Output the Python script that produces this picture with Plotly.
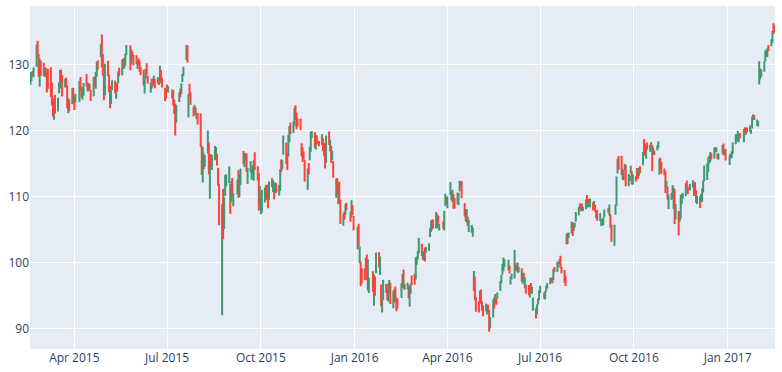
import pandas as pd
import plotly.graph_objects as go

holidays = ["2015-04-03", "2015-05-25", "2015-07-03", "2015-09-07", "2015-11-26", "2015-12-25",
            "2016-01-01", "2016-01-18", "2016-02-15", "2016-03-25", "2016-05-30", "2016-07-04",
            "2016-09-05", "2016-11-24", "2016-12-26", "2017-01-02", "2017-01-16"]
dates = [d for d in pd.bdate_range("2015-02-17", "2017-02-16") if d.strftime("%Y-%m-%d") not in holidays]

open_ = [
    127.49,127.63,128.48,128.62,130.02,132.94,131.56,128.79,130.00,
    129.25,128.96,129.10,128.58,128.40,127.96,126.41,124.75,122.31,124.40,123.88,125.90,127.00,128.75,128.25,127.12,127.23,126.54,122.76,124.57,124.05,126.09,
    124.82,125.03,124.47,127.64,125.85,125.85,125.95,128.37,127.00,126.41,126.28,125.55,125.57,128.10,126.99,128.30,130.49,132.31,134.46,130.16,128.64,
    126.10,129.50,128.15,126.56,124.77,126.68,127.39,125.60,126.15,127.41,129.07,128.38,130.69,130.00,130.07,131.60,132.60,130.34,131.86,131.23,
    131.20,129.86,130.66,129.58,129.50,128.90,126.70,127.92,129.18,128.19,126.10,127.03,127.72,127.23,127.71,127.49,127.48,127.21,128.86,127.67,125.46,125.57,
    126.90,126.43,124.94,125.89,124.64,123.85,121.94,125.03,126.04,125.72,127.74,129.08,130.97,132.85,121.99,126.20,125.32,123.09,123.38,123.15,122.32,122.60,
    121.50,117.42,112.95,115.97,114.58,116.53,117.81,112.53,116.04,114.32,116.04,116.43,116.10,114.08,110.43,94.87,111.11,107.09,112.23,112.17,112.03,
    110.15,110.23,112.49,108.97,111.75,113.76,110.27,111.79,116.58,115.93,116.25,115.66,112.21,113.67,113.38,113.63,113.25,116.44,113.85,112.83,110.17,
    109.07,108.01,109.88,110.63,111.74,110.19,110.00,112.73,110.82,111.29,110.93,111.78,110.80,111.34,114.00,114.33,116.70,118.08,115.40,116.93,118.70,120.99,
    119.87,120.79,123.13,121.85,121.11,120.96,116.90,116.37,116.26,115.20,111.38,114.92,115.76,117.64,119.20,119.27,117.33,119.21,118.29,117.99,
    118.75,117.34,116.55,115.29,118.98,117.52,117.64,116.04,115.19,112.18,111.94,111.07,112.02,108.91,107.28,107.40,107.27,109.00,107.59,106.96,108.58,107.01,
    102.61,105.75,100.56,98.68,98.55,98.97,100.55,100.32,97.96,96.20,98.41,95.10,97.06,98.63,101.52,99.93,96.04,93.79,94.79,
    96.47,95.42,95.00,95.86,96.52,93.13,94.29,95.92,93.79,94.19,95.02,96.67,98.84,96.00,96.31,96.40,93.98,96.05,97.20,96.86,
    97.65,100.51,100.58,102.37,102.39,100.78,101.31,101.41,102.24,101.91,103.96,104.61,105.52,106.34,105.93,105.25,106.48,105.47,106.00,104.89,108.65,109.72,
    108.78,110.42,109.51,110.23,109.95,108.91,108.97,109.34,110.80,111.62,112.11,108.89,107.88,106.64,106.93,105.01,105.00,103.91,96.00,97.61,93.99,
    93.97,94.20,95.20,94.00,93.37,93.00,93.33,93.48,92.72,90.00,92.39,94.55,94.16,94.64,94.64,95.87,97.22,98.67,99.68,99.44,99.60,
    99.02,97.60,97.79,97.99,99.25,99.02,98.50,98.53,98.69,97.32,97.82,96.45,96.62,96.00,94.94,96.25,95.94,92.91,93.00,92.90,93.97,94.44,
    95.49,95.39,94.60,95.70,96.49,96.75,97.17,97.41,97.39,98.92,98.70,99.56,100.00,99.83,99.26,98.25,96.82,104.27,102.83,104.19,
    104.41,106.05,104.81,105.58,106.27,107.52,108.23,108.71,108.52,107.78,108.14,109.63,109.10,109.23,108.77,108.86,108.59,108.57,107.39,107.41,106.62,105.80,105.66,
    106.14,107.70,107.90,107.83,107.25,104.64,102.65,107.51,108.73,113.86,115.12,115.19,113.05,113.85,114.35,114.42,111.64,113.00,113.69,113.16,112.46,
    112.71,113.06,113.40,113.70,114.31,115.02,117.70,117.35,116.79,117.88,117.33,118.18,117.25,116.86,116.81,117.10,117.95,114.31,115.39,113.87,113.65,
    113.46,111.40,110.98,108.53,110.08,110.31,109.88,111.09,107.12,107.71,106.57,106.70,109.81,109.72,110.12,111.95,111.36,111.13,111.43,110.78,111.60,
    110.37,109.17,110.00,109.50,109.26,110.86,112.31,113.29,113.84,115.04,115.38,116.47,115.80,116.74,116.80,116.35,115.59,116.52,117.52,116.45,116.65,
    115.80,115.85,115.92,116.78,117.95,118.77,118.74,118.90,119.11,118.34,120.00,119.40,120.45,120.00,119.55,120.42,121.67,122.14,120.93,121.15,
    127.03,127.98,128.31,129.13,130.54,131.35,131.65,132.46,133.08,133.47,135.52,135.67,
]

high = [
    128.88,128.78,129.03,129.50,133.00,133.60,131.60,130.87,130.57,
    130.28,129.52,129.56,128.75,129.37,129.57,127.22,124.77,124.90,125.40,124.95,127.32,129.16,129.25,128.40,127.85,128.04,126.82,124.88,124.70,126.40,126.49,
    125.12,125.56,127.51,128.12,126.40,126.58,127.21,128.57,127.29,127.13,127.10,126.14,128.12,128.20,128.87,130.42,130.63,133.13,134.54,131.59,128.64,
    130.13,130.57,128.45,126.75,126.08,127.62,127.56,126.88,127.19,128.95,129.49,130.72,130.88,130.98,131.63,132.97,132.91,132.26,131.95,131.45,
    131.39,130.66,130.94,130.58,129.69,129.21,128.08,129.34,130.18,128.33,127.24,127.85,127.88,128.31,127.82,128.06,127.61,129.80,129.20,127.99,126.47,126.12,
    126.94,126.69,126.23,126.15,124.64,124.06,123.85,125.76,126.37,127.15,128.57,129.62,132.97,132.92,125.50,127.09,125.74,123.61,123.91,123.50,122.57,122.64,
    122.57,117.70,117.44,116.50,116.25,119.99,118.18,115.42,116.40,116.31,117.65,117.44,116.52,114.35,111.90,108.80,111.11,109.89,113.24,113.31,114.53,
    111.88,112.34,112.78,110.45,112.56,114.02,113.28,114.21,116.89,116.53,116.54,116.49,114.30,115.37,114.18,114.72,115.50,116.69,114.57,113.51,111.54,
    109.62,111.01,111.37,111.74,111.77,110.19,112.28,112.75,112.45,111.52,112.10,112.00,111.75,114.17,115.58,115.50,119.23,118.13,116.54,119.30,120.69,121.22,
    121.36,123.49,123.82,122.69,121.81,121.81,118.07,117.42,116.82,115.57,114.24,115.05,117.49,119.75,119.92,119.73,119.35,119.23,118.41,119.41,
    118.81,118.11,116.79,119.25,119.86,118.60,117.69,116.94,115.39,112.68,112.80,111.99,112.25,109.52,107.37,107.72,108.85,109.00,107.69,109.43,108.70,107.03,
    105.37,105.85,102.37,100.13,99.11,99.06,100.69,101.19,100.48,97.71,98.65,98.19,97.88,101.46,101.53,100.88,96.63,94.52,97.34,
    96.71,96.04,96.84,97.33,96.92,95.70,95.94,96.35,94.72,94.50,96.85,98.21,98.89,96.76,96.90,96.50,96.38,96.76,98.02,98.23,
    100.77,100.89,101.71,103.75,102.83,101.76,101.58,102.24,102.28,102.91,105.18,106.35,106.47,106.50,107.65,107.29,107.07,105.87,106.19,107.79,110.42,109.90,
    110.00,112.19,110.73,110.98,110.42,109.77,110.61,110.50,112.34,112.39,112.30,108.95,108.00,108.09,106.93,106.48,105.65,105.30,98.71,97.88,94.72,
    94.08,95.74,95.90,94.07,93.45,93.77,93.57,93.57,92.78,91.67,94.39,94.70,95.21,94.64,95.43,97.19,98.09,99.74,100.73,100.47,100.40,
    99.54,97.84,98.27,101.89,99.87,99.56,99.99,99.35,99.12,98.48,98.41,97.75,96.65,96.57,96.35,96.89,96.29,94.66,93.05,93.66,94.55,95.77,
    96.47,95.40,95.66,96.50,96.89,97.65,97.70,97.67,98.99,99.30,100.13,100.00,100.46,101.00,99.30,98.84,97.97,104.35,104.45,104.55,
    106.15,106.07,105.84,106.00,107.65,108.37,108.94,108.90,108.93,108.44,109.54,110.23,109.37,109.60,109.69,109.10,109.32,108.75,107.88,107.95,107.44,106.50,106.57,
    106.80,108.00,108.30,108.76,107.27,105.72,105.72,108.79,113.03,115.73,116.13,116.18,114.12,113.99,114.94,114.79,113.39,113.18,114.64,113.80,113.37,
    113.05,114.31,113.66,114.34,114.56,116.75,118.69,117.98,117.44,118.17,117.84,118.21,117.76,117.38,116.91,117.74,118.36,115.70,115.86,115.21,114.23,
    113.77,112.35,111.46,110.25,110.51,111.72,111.32,111.09,108.87,107.81,107.68,110.23,110.35,110.54,111.99,112.42,111.51,111.87,112.47,112.03,112.20,
    110.94,110.09,110.03,110.36,111.19,112.43,114.70,115.00,115.92,116.20,116.73,116.50,117.38,117.50,117.40,116.51,116.52,117.80,118.02,117.11,117.20,
    116.33,116.51,116.86,118.16,119.43,119.38,119.93,119.30,119.62,120.24,120.50,120.09,120.45,120.81,120.10,122.10,122.44,122.35,121.63,121.39,
    130.49,129.39,129.19,130.50,132.09,132.22,132.45,132.94,133.82,135.09,136.27,135.90,
]

low = [
    126.92,127.45,128.33,128.05,129.66,131.17,128.15,126.61,128.24,
    128.30,128.09,128.32,125.76,126.26,125.06,123.80,122.11,121.63,122.58,122.87,125.65,126.37,127.40,125.16,126.52,126.56,123.38,122.60,122.91,124.00,124.36,
    123.10,124.19,124.33,125.98,124.97,124.66,125.26,126.61,125.91,126.01,126.11,124.46,125.17,126.67,126.32,128.14,129.23,131.15,129.57,128.30,124.58,
    125.30,128.26,125.78,123.36,124.02,126.11,125.63,124.82,125.87,127.16,128.21,128.36,129.64,129.34,129.83,131.40,129.12,130.05,131.10,129.90,
    130.05,129.32,129.90,128.91,128.36,126.83,125.62,127.85,128.48,127.11,125.71,126.37,126.74,127.22,126.40,127.08,126.88,127.12,127.50,126.51,124.48,124.86,
    125.99,125.77,124.85,123.77,122.54,119.22,121.21,124.32,125.04,125.58,127.35,128.31,130.70,130.32,121.99,125.06,123.90,122.12,122.55,122.27,121.71,120.91,
    117.52,113.25,112.10,114.12,114.50,116.53,113.33,109.63,114.54,114.01,115.50,116.01,114.68,111.63,105.65,92.00,103.50,105.05,110.02,111.54,112.00,
    107.36,109.13,110.04,108.51,110.32,109.77,109.90,111.76,114.86,114.42,115.44,113.72,111.87,113.66,112.52,113.30,112.37,114.02,112.44,107.86,108.73,
    107.31,107.55,109.07,109.77,109.41,108.21,109.49,111.44,110.68,109.56,110.49,110.53,110.11,110.82,113.70,114.10,116.33,114.92,113.99,116.06,118.27,119.45,
    119.61,120.70,121.62,120.18,120.62,120.05,116.06,115.21,115.65,112.27,111.00,113.32,115.50,116.76,118.85,117.34,117.12,117.92,117.60,117.75,
    116.86,116.08,114.22,115.11,117.81,116.86,115.08,115.51,112.85,109.79,110.35,108.80,108.98,105.81,105.57,106.45,107.20,107.95,106.18,106.86,107.18,104.82,
    102.00,102.41,99.87,96.43,96.76,97.34,98.84,97.30,95.74,95.36,95.50,93.42,94.94,98.37,99.21,98.07,93.34,92.39,94.35,
    95.40,94.28,94.08,95.19,93.69,93.04,93.93,94.10,92.59,93.01,94.61,96.15,96.09,95.80,95.92,94.55,93.32,95.25,96.58,96.65,
    97.42,99.64,100.45,101.37,100.96,100.40,100.27,100.15,101.50,101.78,103.85,104.59,104.96,105.19,105.14,105.21,105.90,104.82,105.06,104.88,108.60,108.88,
    108.20,110.27,109.42,109.20,108.12,108.17,108.83,108.66,110.80,111.33,109.73,106.94,106.23,106.06,105.52,104.62,104.51,103.91,95.68,94.25,92.51,
    92.40,93.68,93.82,92.68,91.85,92.59,92.11,92.46,89.47,90.00,91.65,93.01,93.89,93.57,94.52,95.67,96.84,98.11,98.64,99.25,98.82,
    98.33,96.63,97.45,97.55,98.96,98.68,98.46,98.48,97.10,96.75,97.03,96.07,95.30,95.03,94.68,95.35,95.25,92.65,91.50,92.14,93.63,94.30,
    95.33,94.46,94.37,95.62,96.05,96.73,97.12,96.84,97.32,98.50,98.60,99.34,99.74,99.13,98.31,96.92,96.42,102.75,102.82,103.68,
    104.41,104.00,104.77,105.28,106.18,107.16,108.01,107.76,107.85,107.78,108.08,109.21,108.34,109.02,108.36,107.85,108.53,107.68,106.68,106.31,106.29,105.50,105.64,
    105.62,106.82,107.51,107.07,105.24,103.13,102.53,107.24,108.60,113.49,114.04,113.25,112.51,112.44,114.00,111.55,111.55,112.34,113.43,111.80,111.80,
    112.28,112.63,112.69,113.13,113.51,114.72,116.20,116.75,115.72,117.13,116.78,117.45,113.80,116.33,116.28,117.00,117.31,113.31,114.10,113.45,113.20,
    110.53,111.23,109.55,108.11,109.46,109.70,108.05,105.83,106.55,104.08,106.16,106.60,108.83,109.66,110.01,111.40,110.33,110.95,111.39,110.07,110.27,
    109.03,108.85,108.25,109.19,109.16,110.60,112.31,112.49,113.75,114.98,115.23,115.65,115.75,116.68,116.78,115.64,115.59,116.49,116.20,116.40,115.43,
    114.76,115.75,115.81,116.47,117.94,118.30,118.60,118.21,118.81,118.22,119.71,119.37,119.73,119.77,119.50,120.28,121.60,121.60,120.66,120.62,
    127.01,127.78,128.16,128.90,130.45,131.22,131.12,132.05,132.75,133.25,134.62,134.84,
]

close = [
    127.83,128.72,128.45,129.50,133.00,132.17,128.79,130.42,128.46,
    129.09,129.36,128.54,126.41,126.60,127.14,124.51,122.24,124.45,123.59,124.95,127.04,128.47,127.50,125.90,127.21,126.69,123.38,124.24,123.25,126.37,124.43,
    124.25,125.32,127.35,126.01,125.60,126.56,127.10,126.85,126.30,126.78,126.17,124.75,127.60,126.91,128.62,129.67,130.28,132.65,130.56,128.64,125.15,
    128.95,128.70,125.80,125.01,125.26,127.62,126.32,125.87,126.01,128.95,128.77,130.19,130.07,130.06,131.39,132.54,129.62,132.04,131.78,130.28,
    130.54,129.96,130.12,129.36,128.65,127.80,127.42,128.88,128.59,127.17,126.92,127.60,127.30,127.88,126.60,127.61,127.03,128.11,127.50,126.75,124.53,125.43,
    126.60,126.44,126.00,125.69,122.57,120.07,123.28,125.66,125.61,126.82,128.51,129.62,132.07,130.75,125.22,125.16,124.50,122.77,123.38,122.99,122.37,121.30,
    118.44,114.64,115.40,115.13,115.52,119.72,113.49,115.24,115.15,115.96,117.16,116.50,115.01,112.65,105.76,103.12,103.74,109.69,112.92,113.29,112.76,
    107.72,112.34,110.37,109.27,112.31,110.15,112.57,114.21,115.31,116.28,116.41,113.92,113.45,115.21,113.40,114.32,115.00,114.71,112.44,109.06,110.30,
    109.58,110.38,110.78,111.31,110.78,109.50,112.12,111.60,111.79,110.21,111.86,111.04,111.73,113.77,113.76,115.50,119.08,115.28,114.55,119.27,120.53,119.50,
    121.18,122.57,122.00,120.92,121.06,120.57,116.77,116.11,115.72,112.34,114.18,113.69,117.29,118.78,119.30,117.75,118.88,118.03,117.81,118.30,
    117.34,116.28,115.20,119.03,118.28,118.23,115.62,116.17,113.18,112.48,110.49,111.34,108.98,106.03,107.33,107.23,108.61,108.03,106.82,108.74,107.32,105.26,
    105.35,102.71,100.70,96.45,96.96,98.53,99.96,97.39,99.52,97.13,96.66,96.79,96.30,101.42,99.44,99.99,93.42,94.09,97.34,
    96.43,94.48,96.35,96.60,94.02,95.01,94.99,94.27,93.70,93.99,96.64,98.12,96.26,96.04,96.88,94.69,96.10,96.76,96.91,96.69,
    100.53,100.75,101.50,103.01,101.87,101.03,101.12,101.17,102.26,102.52,104.58,105.97,105.80,105.92,105.91,106.72,106.13,105.67,105.19,107.68,109.56,108.99,
    109.99,111.12,109.81,110.96,108.54,108.66,109.02,110.44,112.04,112.10,109.85,107.48,106.91,107.13,105.97,105.68,105.08,104.35,97.82,94.83,93.74,
    93.64,95.18,94.19,93.24,92.72,92.79,93.42,92.51,90.34,90.52,93.88,93.49,94.56,94.20,95.22,96.43,97.90,99.62,100.41,100.35,99.86,
    98.46,97.72,97.92,98.63,99.03,98.94,99.65,98.83,97.34,97.46,97.14,97.55,95.33,95.10,95.91,95.55,96.10,93.40,92.04,93.59,94.40,95.60,
    95.89,94.99,95.53,95.94,96.68,96.98,97.42,96.87,98.79,98.78,99.83,99.87,99.96,99.43,98.66,97.34,96.67,102.95,104.34,104.21,
    106.05,104.48,105.79,105.87,107.48,108.37,108.81,108.00,107.93,108.18,109.48,109.38,109.22,109.08,109.36,108.51,108.85,108.03,107.57,106.94,106.82,106.00,106.10,
    106.73,107.73,107.70,108.36,105.52,103.13,105.44,107.95,111.77,115.57,114.92,113.58,113.57,113.55,114.62,112.71,112.88,113.09,113.95,112.18,113.05,
    112.52,113.00,113.05,113.89,114.06,116.05,116.30,117.34,116.98,117.63,117.55,117.47,117.12,117.06,116.60,117.65,118.25,115.59,114.48,113.72,113.54,
    111.49,111.59,109.83,108.84,110.41,111.06,110.88,107.79,108.43,105.71,107.11,109.99,109.95,110.06,111.73,111.80,111.23,111.79,111.57,111.46,110.52,
    109.49,109.90,109.11,109.95,111.03,112.12,113.95,113.30,115.19,115.19,115.82,115.97,116.64,116.95,117.06,116.29,116.52,117.26,116.76,116.73,115.82,
    116.15,116.02,116.61,117.91,118.99,119.11,119.75,119.25,119.04,120.00,119.99,119.78,120.00,120.08,119.97,121.88,121.94,121.95,121.63,121.35,
    128.75,128.53,129.08,130.29,131.53,132.04,132.42,132.12,133.29,135.02,135.51,135.35,
]

n = len(dates)
assert n == len(open_) == len(high) == len(low) == len(close), (n, len(open_), len(high), len(low), len(close))

fig = go.Figure(go.Ohlc(x=dates, open=open_, high=high, low=low, close=close))
fig.update_layout(
    width=782, height=372,
    margin=dict(l=30, r=7, t=6, b=21),
    xaxis_rangeslider_visible=False,
    showlegend=False,
)
fig.write_html(
    "out.html",
    config={"displayModeBar": False},
    post_script="document.body.style.margin='0';document.body.style.overflow='hidden';",
)
